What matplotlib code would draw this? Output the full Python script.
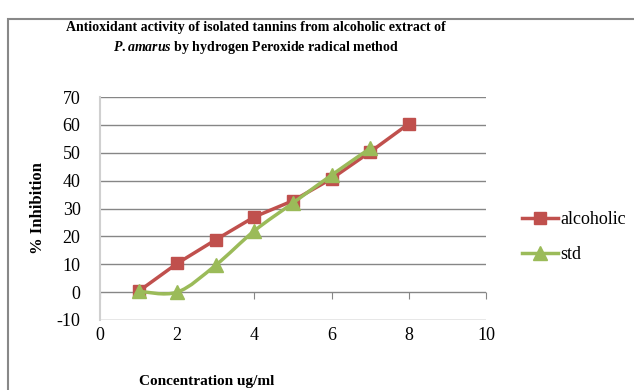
import numpy as np
import matplotlib.pyplot as plt
from matplotlib.path import Path
from matplotlib.patches import PathPatch, Rectangle
from matplotlib.lines import Line2D

# data
conc_alc = [1, 2, 3, 4, 5, 6, 7, 8]
inh_alc = [0.3, 10.3, 18.8, 27, 32.8, 40.7, 50.3, 60.4]
conc_std = [1, 2, 3, 4, 5, 6, 7]
inh_std = [0.3, 0, 9.7, 22, 32, 42, 51.6]

red = '#C0504D'
green = '#9BBB59'
serif = 'Liberation Serif'

plt.rcParams['axes.unicode_minus'] = False
plt.rcParams['mathtext.fontset'] = 'custom'
plt.rcParams['mathtext.it'] = 'Liberation Serif:italic:bold'
plt.rcParams['mathtext.rm'] = 'Liberation Serif:bold'

fig = plt.figure(figsize=(6.34, 3.90), dpi=100)
ax = fig.add_axes([100/634, 1-320/390, 386/634, 223/390])

# alcoholic - straight segments
ax.plot(conc_alc, inh_alc, color=red, lw=2.5, marker='s', ms=9, zorder=3)

# std - excel style smoothed line (catmull-rom as bezier path)
xs = np.array(conc_std, float)
ys = np.array(inh_std, float)
verts = [(xs[0], ys[0])]
codes = [Path.MOVETO]
for i in range(len(xs) - 1):
    p0 = (xs[max(i-1, 0)], ys[max(i-1, 0)])
    p1 = (xs[i], ys[i])
    p2 = (xs[i+1], ys[i+1])
    p3 = (xs[min(i+2, len(xs)-1)], ys[min(i+2, len(xs)-1)])
    c1 = (p1[0] + (p2[0]-p0[0])/6, p1[1] + (p2[1]-p0[1])/6)
    c2 = (p2[0] - (p3[0]-p1[0])/6, p2[1] - (p3[1]-p1[1])/6)
    verts += [c1, c2, p2]
    codes += [Path.CURVE4]*3
ax.add_patch(PathPatch(Path(verts, codes), fill=False, edgecolor=green, lw=2.5, zorder=4))
ax.plot(conc_std, inh_std, ls='none', color=green, marker='^', ms=10, zorder=5)

ax.set_xlim(0, 10)
ax.set_ylim(-10, 70)
ax.set_xticks(range(0, 11, 2))
ax.set_yticks(range(-10, 71, 10))
ax.grid(axis='y', color='#868686', lw=1)
ax.set_axisbelow(True)
for s in ['top', 'right', 'bottom']:
    ax.spines[s].set_visible(False)
ax.spines['left'].set_color('#d0d0d0')
ax.spines['left'].set_linewidth(1.5)
ax.tick_params(axis='y', length=0, labelsize=13, pad=14)
ax.tick_params(axis='x', length=0, labelsize=13, pad=5)
for lab in ax.get_xticklabels() + ax.get_yticklabels():
    lab.set_family(serif)

# tick marks on the zero line
sec = ax.secondary_xaxis(0.125)
sec.set_xticks(range(0, 11, 2))
sec.tick_params(length=5, color='#868686', labelbottom=False)
sec.spines['bottom'].set_visible(False)

ax.set_ylabel('% Inhibition', family=serif, weight='bold', fontsize=12, labelpad=8)
fig.text(207/634, 1-382/390, 'Concentration ug/ml', family=serif, weight='bold',
         fontsize=11, ha='center', va='center')

fig.text(256/634, 1-27/390, 'Antioxidant activity of isolated tannins from alcoholic extract of',
         family=serif, weight='bold', fontsize=10, ha='center', va='center')
fig.text(256/634, 1-48/390, r'$\it{P.amarus}$ by hydrogen Peroxide radical method',
         family=serif, weight='bold', fontsize=10, ha='center', va='center')

handles = [Line2D([], [], color=red, lw=2.5, marker='s', ms=9),
           Line2D([], [], color=green, lw=2.5, marker='^', ms=10)]
fig.legend(handles, ['alcoholic', 'std'], loc='center left', bbox_to_anchor=(506/634, 1-237/390),
           frameon=False, prop={'family': serif, 'size': 13}, handlelength=2.0,
           handletextpad=0.1, labelspacing=1.0)

fig.patches.append(Rectangle((8/634, -0.05), 1.0, 1-19/390+0.05, transform=fig.transFigure,
                             fill=False, edgecolor='#888888', lw=1.5))

fig.savefig('out.png', dpi=100)
